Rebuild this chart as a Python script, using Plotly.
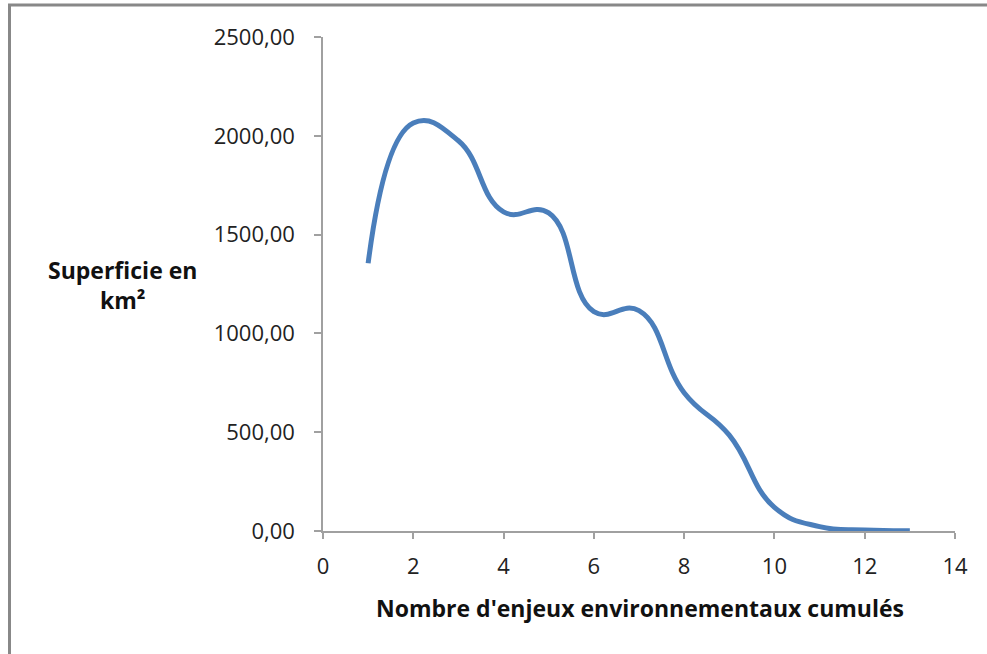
import plotly.graph_objects as go

# Data
x_vals = [1, 2, 3, 4, 5, 6, 7, 8, 9, 10, 11, 12, 13]
y_vals = [1355, 2065, 1975, 1615, 1610, 1110, 1115, 700, 485, 120, 22, 5, 1]
x_ticks = [0, 2, 4, 6, 8, 10, 12, 14]
y_ticks = [0, 500, 1000, 1500, 2000, 2500]
y_tick_text = ["0,00", "500,00", "1000,00", "1500,00", "2000,00", "2500,00"]
x_title = "Nombre d'enjeux environnementaux cumulés"
y_title = "Superficie en<br>km²"

W, H = 987, 654
L, R, T, B = 323, 32, 37, 123
pw, ph = W - L - R, H - T - B

def px2paper_x(px):
    return (px - L) / pw

def px2paper_y(py):
    return (H - B - py) / ph

FONT = "Open Sans"

fig = go.Figure()
fig.add_trace(go.Scatter(
    x=x_vals, y=y_vals, mode="lines",
    line=dict(color="#4A7EBB", width=5, shape="spline", smoothing=1.3),
    hoverinfo="x+y",
))

fig.update_layout(
    width=W, height=H,
    margin=dict(l=L, r=R, t=T, b=B),
    paper_bgcolor="white", plot_bgcolor="white",
    showlegend=False,
    font=dict(family=FONT, color="#222222"),
    xaxis=dict(
        range=[0, 14], tickvals=x_ticks, ticktext=[str(v) for v in x_ticks],
        showgrid=False, zeroline=False, showline=True, linecolor="#a0a0a0", linewidth=1.5,
        ticks="outside", ticklen=6, tickcolor="#a0a0a0", tickwidth=1.5,
        tickfont=dict(size=22, family=FONT, color="#222222"),
        ticklabelstandoff=9,
        fixedrange=True,
    ),
    yaxis=dict(
        range=[0, 2500], tickvals=y_ticks, ticktext=y_tick_text,
        showgrid=False, zeroline=False, showline=True, linecolor="#a0a0a0", linewidth=1.5,
        ticks="outside", ticklen=7, tickcolor="#a0a0a0", tickwidth=1.5,
        tickfont=dict(size=22, family=FONT, color="#222222"),
        ticklabelstandoff=15,
        fixedrange=True,
    ),
    shapes=[dict(
        type="rect", xref="paper", yref="paper",
        x0=px2paper_x(9.5), x1=px2paper_x(1010), y0=px2paper_y(680), y1=px2paper_y(5),
        line=dict(color="#888888", width=3), fillcolor="rgba(0,0,0,0)", layer="below",
    )],
    annotations=[
        dict(text=x_title, xref="paper", yref="paper",
             x=px2paper_x(640), y=px2paper_y(608), xanchor="center", yanchor="middle",
             showarrow=False, font=dict(size=23, family=FONT, color="#111111", weight="bold")),
        dict(text=y_title, xref="paper", yref="paper",
             x=px2paper_x(122), y=px2paper_y(285), xanchor="center", yanchor="middle",
             showarrow=False, align="center",
             font=dict(size=23, family=FONT, color="#111111", weight="bold")),
    ],
)

fig.write_html("out.html", config={"displayModeBar": False},
               post_script="document.body.style.margin='0';document.body.style.padding='0';")
